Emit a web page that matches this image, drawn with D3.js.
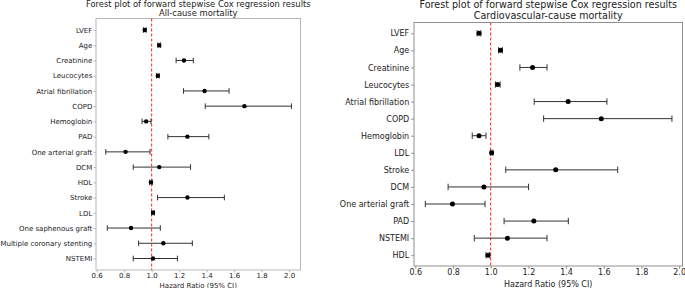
<html>
  <head>
    <meta charset="utf-8" />
    <script src="https://cdnjs.cloudflare.com/ajax/libs/d3/7.6.1/d3.min.js"></script>
    <style>
      body { margin: 0; background: #fff; }
      svg { display: block; font-family: "DejaVu Sans", sans-serif; }
    </style>
  </head>
  <body>
    <svg width="685" height="288"></svg>
  </body>
  <script>
    // all-cause mortality (left panel)
    const allVars = ["LVEF", "Age", "Creatinine", "Leucocytes", "Atrial fibrillation", "COPD",
      "Hemoglobin", "PAD", "One arterial graft", "DCM", "HDL", "Stroke", "LDL",
      "One saphenous graft", "Multiple coronary stenting", "NSTEMI"];
    const allHR = [0.95, 1.055, 1.235, 1.045, 1.385, 1.675, 0.96, 1.26, 0.81, 1.055, 0.995, 1.26, 1.01, 0.85, 1.085, 1.01];
    const allLo = [0.94, 1.045, 1.178, 1.035, 1.232, 1.39, 0.93, 1.118, 0.666, 0.866, 0.985, 1.043, 1.0, 0.677, 0.905, 0.866];
    const allHi = [0.96, 1.065, 1.303, 1.055, 1.563, 2.017, 0.995, 1.416, 0.988, 1.283, 1.005, 1.529, 1.02, 1.063, 1.296, 1.187];

    // cardiovascular-cause mortality (right panel)
    const cvVars = ["LVEF", "Age", "Creatinine", "Leucocytes", "Atrial fibrillation", "COPD",
      "Hemoglobin", "LDL", "Stroke", "DCM", "One arterial graft", "PAD", "NSTEMI", "HDL"];
    const cvHR = [0.938, 1.052, 1.222, 1.037, 1.411, 1.587, 0.938, 1.005, 1.345, 0.964, 0.797, 1.229, 1.089, 0.986];
    const cvLo = [0.928, 1.042, 1.155, 1.025, 1.231, 1.281, 0.902, 0.998, 1.08, 0.774, 0.653, 1.071, 0.913, 0.975];
    const cvHi = [0.948, 1.062, 1.299, 1.05, 1.617, 1.962, 0.975, 1.012, 1.674, 1.201, 0.97, 1.412, 1.299, 0.995];

    const xTicks = [0.6, 0.8, 1.0, 1.2, 1.4, 1.6, 1.8, 2.0];

    const svg = d3.select("svg");

    function forest(opt) {
      const { vars, hr, lo, hi, box, xdom, fs, r, cap, spine, sub } = opt;
      const g = svg.append("g");
      const x = d3.scaleLinear().domain(xdom).range([box.l, box.r]);
      const y = d3.scalePoint().domain(vars).range([box.t + box.pad, box.b - box.pad]);

      // x axis
      const xa = g.append("g")
        .attr("transform", `translate(0,${box.b})`)
        .call(d3.axisBottom(x).tickValues(xTicks).tickFormat(d3.format(".1f"))
          .tickSize(opt.tick).tickPadding(opt.xpad));
      xa.select(".domain").remove();
      xa.selectAll("line").attr("stroke", spine);
      xa.selectAll("text").attr("font-size", fs).attr("fill", "#222").attr("font-family", "DejaVu Sans");

      // y axis
      const ya = g.append("g")
        .attr("transform", `translate(${box.l},0)`)
        .call(d3.axisLeft(y).tickSize(opt.tick).tickPadding(opt.ypad));
      ya.select(".domain").remove();
      ya.selectAll("line").attr("stroke", spine);
      ya.selectAll("text").attr("font-size", fs).attr("fill", "#222").attr("font-family", "DejaVu Sans");

      // frame
      g.append("rect")
        .attr("x", box.l).attr("y", box.t)
        .attr("width", box.r - box.l).attr("height", box.b - box.t)
        .attr("fill", "none").attr("stroke", spine).attr("stroke-width", 1);

      // reference line at HR = 1
      g.append("line")
        .attr("x1", x(1)).attr("x2", x(1))
        .attr("y1", box.t).attr("y2", box.b)
        .attr("stroke", "#ff2020").attr("stroke-width", 1)
        .attr("stroke-dasharray", "3,2");

      const rows = vars.map((v, i) => ({ v, hr: hr[i], lo: lo[i], hi: hi[i] }));
      const eb = g.selectAll("g.row").data(rows).enter().append("g").attr("class", "row");
      eb.append("line")
        .attr("x1", (d) => x(d.lo)).attr("x2", (d) => x(d.hi))
        .attr("y1", (d) => y(d.v)).attr("y2", (d) => y(d.v))
        .attr("stroke", "#333").attr("stroke-width", 1);
      eb.append("line")
        .attr("x1", (d) => x(d.lo)).attr("x2", (d) => x(d.lo))
        .attr("y1", (d) => y(d.v) - cap).attr("y2", (d) => y(d.v) + cap)
        .attr("stroke", "#333").attr("stroke-width", 1);
      eb.append("line")
        .attr("x1", (d) => x(d.hi)).attr("x2", (d) => x(d.hi))
        .attr("y1", (d) => y(d.v) - cap).attr("y2", (d) => y(d.v) + cap)
        .attr("stroke", "#333").attr("stroke-width", 1);
      eb.append("circle")
        .attr("cx", (d) => x(d.hr)).attr("cy", (d) => y(d.v))
        .attr("r", r).attr("fill", "#000");

      // titles
      const cx = (box.l + box.r) / 2;
      g.append("text").attr("x", cx).attr("y", opt.ty1).attr("text-anchor", "middle")
        .attr("font-size", opt.tfs).attr("fill", "#222")
        .text("Forest plot of forward stepwise Cox regression results");
      g.append("text").attr("x", cx).attr("y", opt.ty2).attr("text-anchor", "middle")
        .attr("font-size", opt.tfs).attr("fill", "#222")
        .text(sub);
      g.append("text").attr("x", cx).attr("y", opt.xly).attr("text-anchor", "middle")
        .attr("font-size", fs).attr("fill", "#222")
        .text("Hazard Ratio (95% CI)");
    }

    forest({
      vars: allVars, hr: allHR, lo: allLo, hi: allHi,
      box: { l: 96, r: 300.5, t: 18.5, b: 270, pad: 11.5 },
      xdom: [0.595, 2.083], fs: 7, r: 2.2, cap: 2.8, spine: "#b8b8b8",
      tick: 2.4, xpad: 0.9, ypad: 1.3,
      sub: "All-cause mortality", tfs: 8.4, ty1: 6.5, ty2: 15.5, xly: 287.5
    });

    forest({
      vars: cvVars, hr: cvHR, lo: cvLo, hi: cvHi,
      box: { l: 414, r: 682.5, t: 22.5, b: 266, pad: 10.8 },
      xdom: [0.593, 2.018], fs: 8, r: 2.5, cap: 3.2, spine: "#909090",
      tick: 2.8, xpad: 0.6, ypad: 2,
      sub: "Cardiovascular-cause mortality", tfs: 9.6, ty1: 7.5, ty2: 18.5, xly: 286.5
    });
  </script>
</html>
